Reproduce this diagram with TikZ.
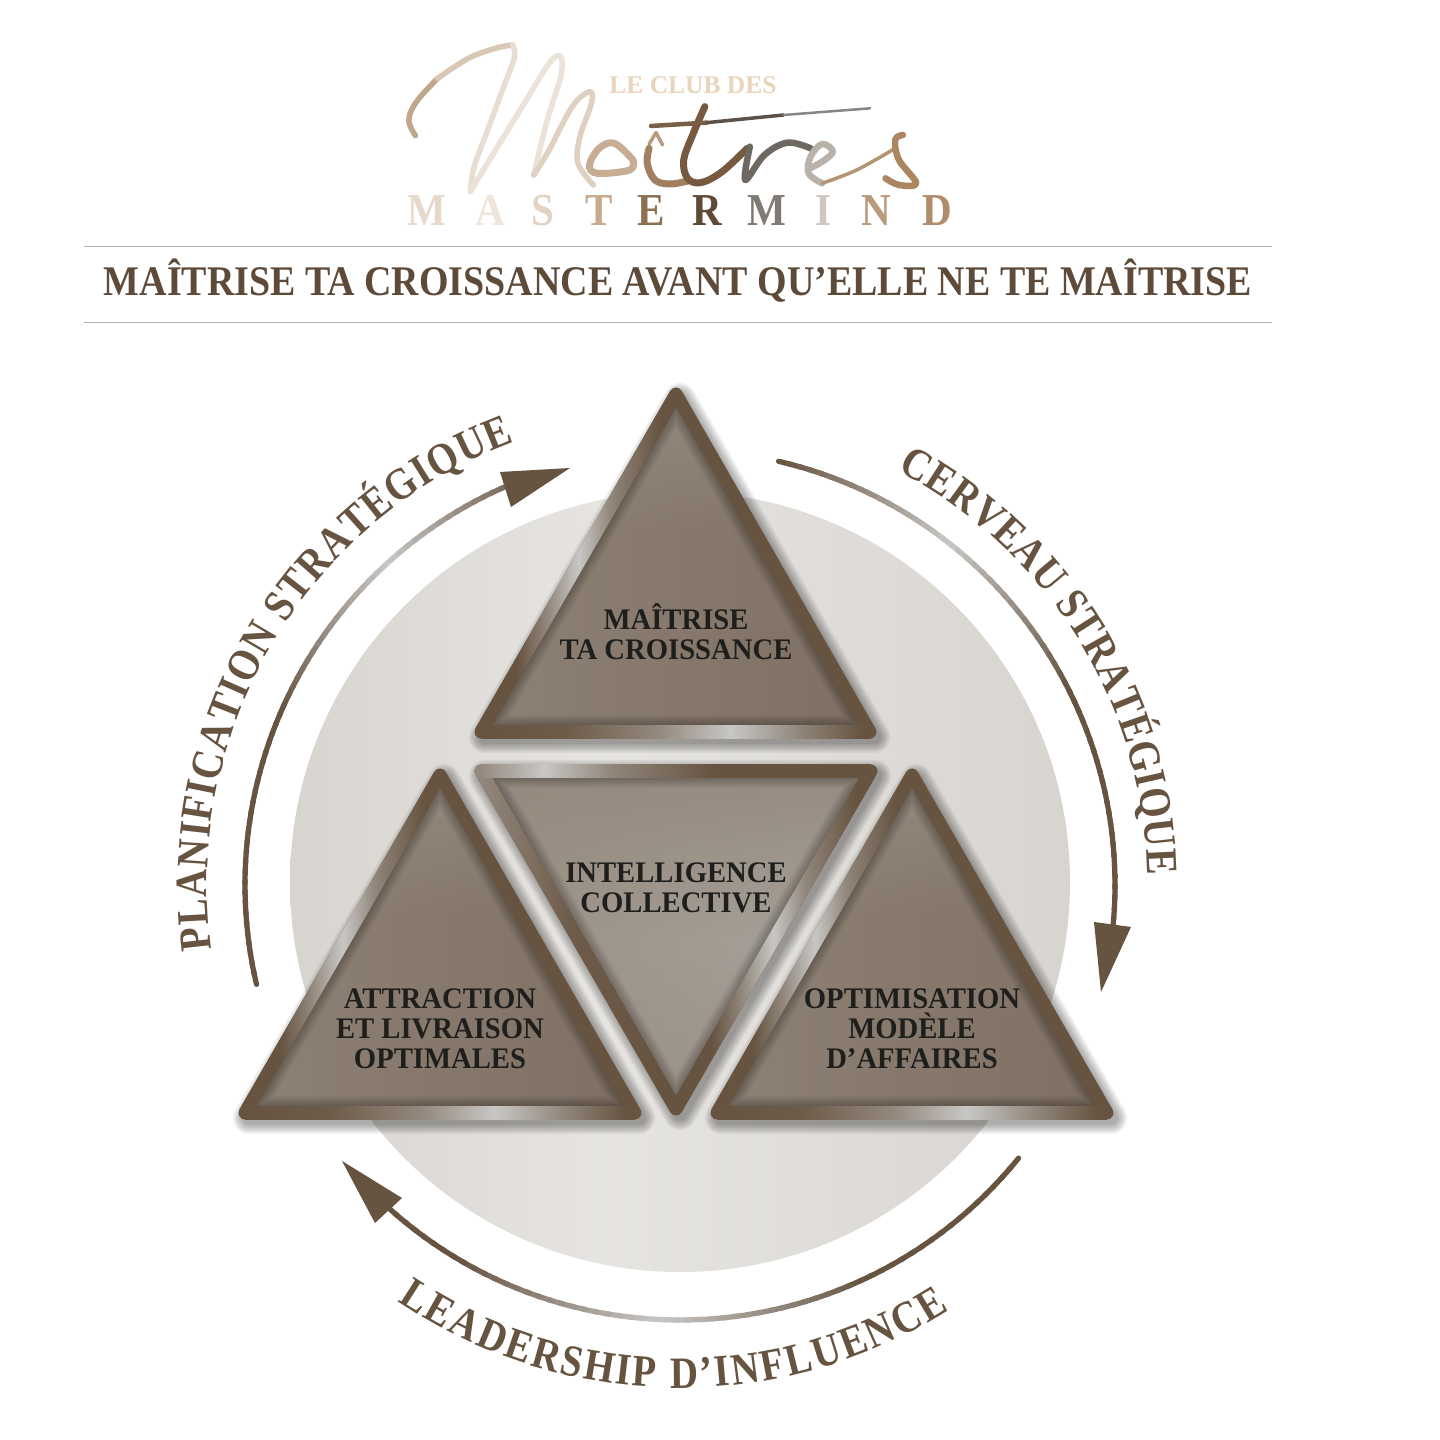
\documentclass[tikz,border=0pt]{standalone}
\usepackage{fontspec}
\setmainfont{Liberation Serif}
\newfontfamily\tightserif[FakeStretch=0.9]{Liberation Serif}
\newfontfamily\labelserif[FakeStretch=0.96]{Liberation Serif}
\newfontfamily\ringserif[FakeStretch=0.87]{Liberation Serif}
\usetikzlibrary{decorations.text,fadings}
\definecolor{ringbrown}{HTML}{665340}
\definecolor{silverc}{HTML}{C8C7C5}
\definecolor{titlebrown}{HTML}{5D4A38}
\definecolor{labelink}{HTML}{1E1E1C}
\definecolor{rulegray}{HTML}{B5B0AA}
\definecolor{discedge}{HTML}{D8D5D0}
\definecolor{disclight}{HTML}{E6E4E1}
\definecolor{metalsoft}{HTML}{8F8579}
\definecolor{metalwarm}{HTML}{6E5C4A}
\definecolor{metalgrey}{HTML}{958A7F}
\definecolor{fillbase}{HTML}{7F7063}
\definecolor{fillmid}{HTML}{807164}
\definecolor{filltop}{HTML}{938A7E}
\definecolor{fillglow}{HTML}{94897D}
\definecolor{midbase}{HTML}{9F978E}
\definecolor{midmid}{HTML}{A9A49D}
\definecolor{midtop}{HTML}{968B80}
\definecolor{mma}{HTML}{E6D9CB}
\definecolor{mmb}{HTML}{EFE5DA}
\definecolor{mmc}{HTML}{E3D3C3}
\definecolor{mmd}{HTML}{C8AB8F}
\definecolor{mme}{HTML}{8D6F52}
\definecolor{mmf}{HTML}{5F4A38}
\definecolor{mmg}{HTML}{7F7A74}
\definecolor{mmh}{HTML}{CFC8C0}
\definecolor{mmi}{HTML}{B89A7C}
\definecolor{mmj}{HTML}{B08C6B}
\definecolor{logoa}{HTML}{C1A68E}
\definecolor{logob}{HTML}{D9C7B5}
\definecolor{logoc}{HTML}{E8DDD1}
\definecolor{logod}{HTML}{EBE2D8}
\definecolor{logoe}{HTML}{DFD0C1}
\definecolor{logof}{HTML}{C7AD93}
\definecolor{logog}{HTML}{B89A7C}
\definecolor{logoh}{HTML}{A17F60}
\definecolor{logoi}{HTML}{76593F}
\definecolor{logoj}{HTML}{6E6862}
\definecolor{logok}{HTML}{B8B2AB}
\definecolor{logol}{HTML}{B39473}
\definecolor{logom}{HTML}{AB8660}
\definecolor{logon}{HTML}{7A5F47}
\definecolor{logoo}{HTML}{5D5249}
\definecolor{logop}{HTML}{8A8580}
\definecolor{clubtan}{HTML}{E8D5BC}
\pgfdeclarehorizontalshading{discshade}{100bp}{color(0bp)=(discedge);color(25bp)=(discedge);color(45bp)=(disclight);color(75bp)=(discedge);color(100bp)=(discedge)}
\pgfdeclarehorizontalshading{sidemetal}{100bp}{color(0bp)=(ringbrown);color(25bp)=(ringbrown);color(35bp)=(ringbrown);color(42bp)=(metalsoft);color(50bp)=(silverc);color(58bp)=(metalsoft);color(70bp)=(ringbrown);color(100bp)=(ringbrown)}
\pgfdeclarehorizontalshading{basemetal}{100bp}{color(0bp)=(ringbrown);color(25bp)=(ringbrown);color(36bp)=(metalwarm);color(48bp)=(metalgrey);color(57bp)=(silverc);color(66bp)=(metalsoft);color(74bp)=(ringbrown);color(100bp)=(ringbrown)}
\pgfdeclarehorizontalshading{topmetal}{100bp}{color(0bp)=(metalgrey);color(25bp)=(metalgrey);color(33bp)=(silverc);color(42bp)=(metalsoft);color(55bp)=(ringbrown);color(100bp)=(ringbrown)}
\pgfdeclarehorizontalshading{lowmetal}{100bp}{color(0bp)=(metalgrey);color(25bp)=(metalgrey);color(48bp)=(metalwarm);color(70bp)=(ringbrown);color(100bp)=(ringbrown)}
\pgfdeclareverticalshading{trifill}{100bp}{color(0bp)=(fillbase);color(25bp)=(fillbase);color(55bp)=(fillmid);color(75bp)=(filltop);color(100bp)=(filltop)}
\pgfdeclareverticalshading{midfill}{100bp}{color(0bp)=(midbase);color(25bp)=(midbase);color(50bp)=(midmid);color(75bp)=(midtop);color(100bp)=(midtop)}
\newcommand{\metalbar}[4]{%
	\begin{scope}[shift={(#1,#2)},rotate=#3]
		\shade[shading=#4] (0,-6.5) rectangle (390,6.5);
	\end{scope}}
\newcommand{\triangleblock}[4]{%
	\foreach \w in {14,17,...,32}{
		\draw[black,opacity=0.05,line width=\w*0.02cm,line join=round,shift={(4,-5)}] #1 -- #2 -- #3 -- cycle;
	}
	\shade[shading=#4] #1 -- #2 -- #3 -- cycle;
	\fill[fillglow,path fading=east,fit fading=true,opacity=0.7] #1 -- #2 -- #3 -- cycle;
	\begin{scope}
		\clip #1 -- #2 -- #3 -- cycle;
		\foreach \w in {15,18,...,33}{
			\draw[black,opacity=0.04,line width=\w*0.02cm] #1 -- #2 -- #3 -- cycle;
		}
	\end{scope}
	\draw[ringbrown,line width=0.26cm,line join=round] #1 -- #2 -- #3 -- cycle;}
\newcommand{\metalarc}[3]{%
	\foreach \i in {1,...,60}{
		\pgfmathsetmacro{\arcfrom}{#1+(#2-#1)*(\i-1)/60}
		\pgfmathsetmacro{\arcto}{#1+(#2-#1)*(\i+0.3)/60}
		\pgfmathsetmacro{\mixv}{100*min(1,abs(\i/60-#3)/0.3)}
		\draw[ringbrown!\mixv!silverc,line width=0.105cm,line cap=round] ([shift={(\arcfrom:435)}]ringctr) arc[start angle=\arcfrom,end angle=\arcto,radius=435];
	}}
\newcommand{\ringfont}{\ringserif\fontsize{25.5}{25.5}\selectfont\bfseries}
\newcommand{\logoletter}{\tightserif\fontsize{26}{26}\selectfont\bfseries}
\begin{document}
\begin{tikzpicture}[x=0.02cm,y=0.02cm,
	tritext/.style={align=center,text=labelink,font=\labelserif\fontsize{17}{17}\selectfont\bfseries},
	logostroke/.style={line width=0.11cm,line cap=round,line join=round}]
	\useasboundingbox (0,0) rectangle (1440,1440);
	\fill[white] (0,0) rectangle (1440,1440);

	% logo
	\begin{scope}[shift={(380,1420)},x=0.00769cm,y=-0.00667cm]
		\draw[logostroke,color=logoa] plot[smooth,tension=.6] coordinates {(92,347)(75,300)(95,245)(150,175)};
		\draw[logostroke,color=logob] plot[smooth,tension=.6] coordinates {(150,175)(230,115)(300,85)(345,75)};
		\draw[logostroke,color=logoc] plot[smooth,tension=.6] coordinates {(345,75)(350,110)(325,190)(280,330)(245,440)(235,515)};
		\draw[logostroke,color=logod] plot[smooth,tension=.6] coordinates {(235,515)(290,410)(370,260)(440,130)(470,110)(470,170)(435,300)(400,465)};
		\draw[logostroke,color=logoe] plot[smooth,tension=.6] coordinates {(400,465)(440,390)(500,260)(545,215)(550,250)(520,350)(515,430)(555,495)};
		\draw[logostroke,color=logof,line width=0.14cm] plot[smooth,tension=.6] coordinates {(658,420)(610,370)(570,385)(545,435)(565,460)(650,450)(658,420)};
		\draw[logostroke,color=logog,line width=0.07cm] (700,372) -- (718,338) -- (735,375);
		\draw[logostroke,color=logoh,line width=0.14cm] plot[smooth,tension=.6] coordinates {(700,385)(695,430)(715,480)(755,492)(805,482)};
		\draw[logostroke,color=logoi,line width=0.14cm] plot[smooth,tension=.6] coordinates {(845,260)(815,340)(790,420)(800,475)(835,488)(890,455)(955,385)};
		\draw[logostroke,color=logoj,line width=0.13cm] plot[smooth,tension=.6] coordinates {(962,380)(950,480)(1000,405)(1060,368)(1120,385)};
		\draw[logostroke,color=logok,line width=0.13cm] plot[smooth,tension=.6] coordinates {(1118,445)(1150,425)(1178,395)(1150,372)(1120,410)(1115,460)(1150,490)};
		\draw[logostroke,color=logol,line width=0.07cm] plot[smooth,tension=.6] coordinates {(1150,490)(1240,450)(1340,385)};
		\draw[logostroke,color=logom,line width=0.13cm] plot[smooth,tension=.6] coordinates {(1360,345)(1340,360)(1350,420)(1395,490)(1350,495)(1315,475)};
		\draw[logostroke,color=logon,line width=0.09cm] (705,318) -- (850,308);
		\draw[logostroke,color=logoo,line width=0.07cm] (850,308) -- (1050,285);
		\draw[logostroke,color=logop,line width=0.05cm] (1050,285) -- (1275,265);
	\end{scope}
	\node[text=clubtan,font=\fontsize{14.5}{14.5}\selectfont\bfseries,anchor=base] (clubtext) at (693,1346) {LE CLUB DES};
	\foreach \px/\ltr/\col [count=\n] in {427/M/mma,490/A/mmb,543/S/mmc,599/T/mmd,651/E/mme,707/R/mmf,767/M/mmg,823/I/mmh,876/N/mmi,937/D/mmj}{
		\node[text=\col,font=\logoletter,anchor=base] (logo\n) at (\px,1214) {\ltr};
	}

	% title
	\coordinate (ruleaw) at (84,1193);
	\coordinate (ruleae) at (1272,1193);
	\coordinate (rulebw) at (84,1117);
	\coordinate (rulebe) at (1272,1117);
	\draw[rulegray,line width=0.02cm] (ruleaw) -- (ruleae);
	\draw[rulegray,line width=0.02cm] (rulebw) -- (rulebe);
	\node[text=titlebrown,font=\tightserif\fontsize{24}{24}\selectfont\bfseries] (title) at (678,1159) {MAÎTRISE TA CROISSANCE AVANT QU’ELLE NE TE MAÎTRISE};

	% disc
	\coordinate (ringctr) at (680,555);
	\shade[shading=discshade] (680,558) circle (390);

	% rings and arrowheads
	\metalarc{193.2}{113}{0.77}
	\metalarc{76.9}{-7}{0.31}
	\metalarc{-38.9}{-132}{0.59}
	\coordinate (tipa) at (570,972);
	\coordinate (tipb) at (1101,448);
	\coordinate (tipc) at (342,279);
	\fill[ringbrown] (tipa) -- (500,968) -- (511,933) -- cycle;
	\fill[ringbrown] (tipb) -- (1094,518) -- (1131,513) -- cycle;
	\fill[ringbrown] (tipc) -- (402,242) -- (375,217) -- cycle;

	% ring labels
	\path[decorate,decoration={text along path,text align={fit to path},text={|\ringfont\color{ringbrown}|PLANIFICATION STRATÉGIQUE}}] ([shift={(187.8:473)}]ringctr) arc[start angle=187.8,end angle=110.5,radius=473];
	\path[decorate,decoration={text along path,text align={fit to path},text={|\ringfont\color{ringbrown}|CERVEAU STRATÉGIQUE}}] ([shift={(62.3:468)}]ringctr) arc[start angle=62.3,end angle=1.2,radius=468];
	\path[decorate,decoration={text along path,text align={fit to path},text={|\ringfont\color{ringbrown}|LEADERSHIP D’INFLUENCE}}] ([shift={(-124.1:503)}]ringctr) arc[start angle=-124.1,end angle=-57.6,radius=503];

	% triangles
	\triangleblock{(676,1046)}{(481,708)}{(870,708)}{trifill}
	\metalbar{676}{1046}{240}{sidemetal}
	\metalbar{481}{708}{0}{basemetal}
	\triangleblock{(440,665)}{(245,327)}{(635,327)}{trifill}
	\metalbar{440}{665}{240}{sidemetal}
	\metalbar{245}{327}{0}{basemetal}
	\triangleblock{(912,665)}{(717,327)}{(1107,327)}{trifill}
	\metalbar{912}{665}{240}{sidemetal}
	\metalbar{717}{327}{0}{basemetal}
	\triangleblock{(481,669)}{(871,669)}{(676,331)}{midfill}
	\fill[metalgrey] (481,669) circle (6.5);
	\metalbar{481}{669}{-60}{lowmetal}
	\metalbar{481}{669}{0}{topmetal}
	\metalbar{871}{669}{240}{sidemetal}

	\node[tritext] (croissance) at (676,808) {MAÎTRISE\\TA CROISSANCE};
	\node[tritext] (collective) at (676,552) {INTELLIGENCE\\COLLECTIVE};
	\node[tritext] (attraction) at (440,411) {ATTRACTION\\ET LIVRAISON\\OPTIMALES};
	\node[tritext] (optimisation) at (912,411) {OPTIMISATION\\MODÈLE\\D’AFFAIRES};
\end{tikzpicture}
\end{document}
